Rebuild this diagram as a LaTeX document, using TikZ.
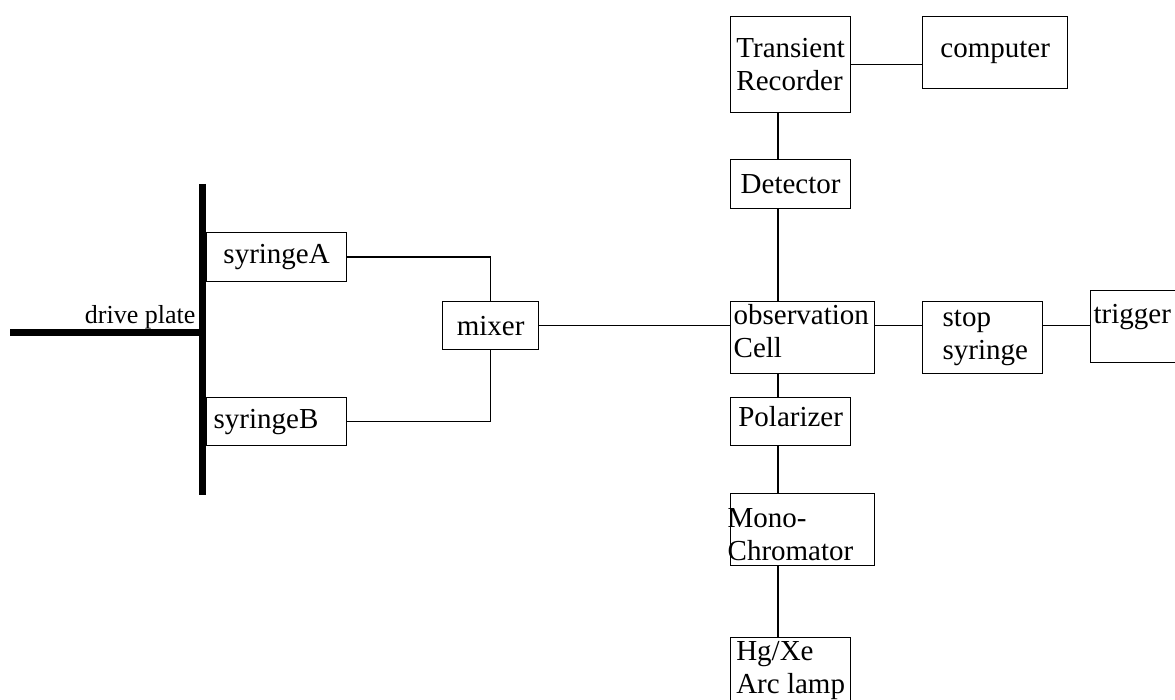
\documentclass[tikz,border=0pt]{standalone}
\usepackage{fontspec}
\setmainfont{Liberation Serif}
\usetikzlibrary{calc}

\begin{document}
\begin{tikzpicture}[x=1pt, y=-1pt, line width=1.3pt,
  box/.style={draw, rectangle, anchor=north west, inner sep=3pt, font=\fontsize{29}{33}\selectfont},
  plate/.style={line width=7pt}]
\useasboundingbox (0,0) rectangle (1175,700);

% drive plate
\draw[plate] (202,184) -- (202,495);
\draw[plate] (10,333) -- (202,333);
\node[anchor=base east, inner sep=0pt, font=\fontsize{26}{30}\selectfont] (dp) at (196,324) {drive plate};

% syringes and mixer
\node[box, minimum width=140pt, minimum height=49pt] (sA) at (206,232) {syringeA};
\node[box, minimum width=140pt, minimum height=48pt, inner xsep=7pt, text width=126pt, align=left] (sB) at (206,397) {syringeB};
\node[box, minimum width=96pt, minimum height=48pt] (mixer) at (442,301) {mixer};

% optical path
\coordinate (trunk) at (778,0);
\node[box, minimum width=120pt, minimum height=96pt, align=left] (TR) at (730,16) {Transient\\Recorder};
\node[box, minimum width=145pt, minimum height=72pt] (comp) at (922,16) {computer};
\node[box, minimum width=120pt, minimum height=49pt] (det) at (730,159) {Detector};
\node[box, minimum width=144pt, minimum height=72pt, text width=138pt, align=left, text depth=46pt] (obs) at (730,301) {observation\\Cell};
\node[box, minimum width=120pt, minimum height=72pt, inner xsep=20pt, text width=80pt, align=left] (stop) at (922,301) {stop\\syringe};
\node[box, minimum width=100pt, minimum height=72pt, text width=94pt, align=left, text depth=26pt] (trig) at (1090,290) {trigger};
\node[box, minimum width=120pt, minimum height=48pt, text depth=10pt] (pol) at (730,397) {Polarizer};
\node[box, minimum width=144pt, minimum height=72pt, inner xsep=-3pt, text width=150pt, align=left, text height=29pt] (mono) at (730,493) {Mono-\\Chromator};
\node[box, minimum width=120pt, minimum height=66pt, align=left] (lamp) at (730,637) {Hg/Xe\\Arc lamp};

% connectors
\draw (sA.east) -| (mixer.north);
\draw (sB.east) -| (mixer.south);
\draw (mixer.east) -- (mixer.east -| obs.west);
\draw (obs.east |- mixer.east) -- (stop.west |- mixer.east);
\draw (stop.east |- mixer.east) -- (trig.west |- mixer.east);
\draw (TR.east) -- (TR.east -| comp.west);
\foreach \a/\b in {TR/det, det/obs, obs/pol, pol/mono, mono/lamp}
  \draw (\a.south -| trunk) -- (\b.north -| trunk);

\end{tikzpicture}
\end{document}
